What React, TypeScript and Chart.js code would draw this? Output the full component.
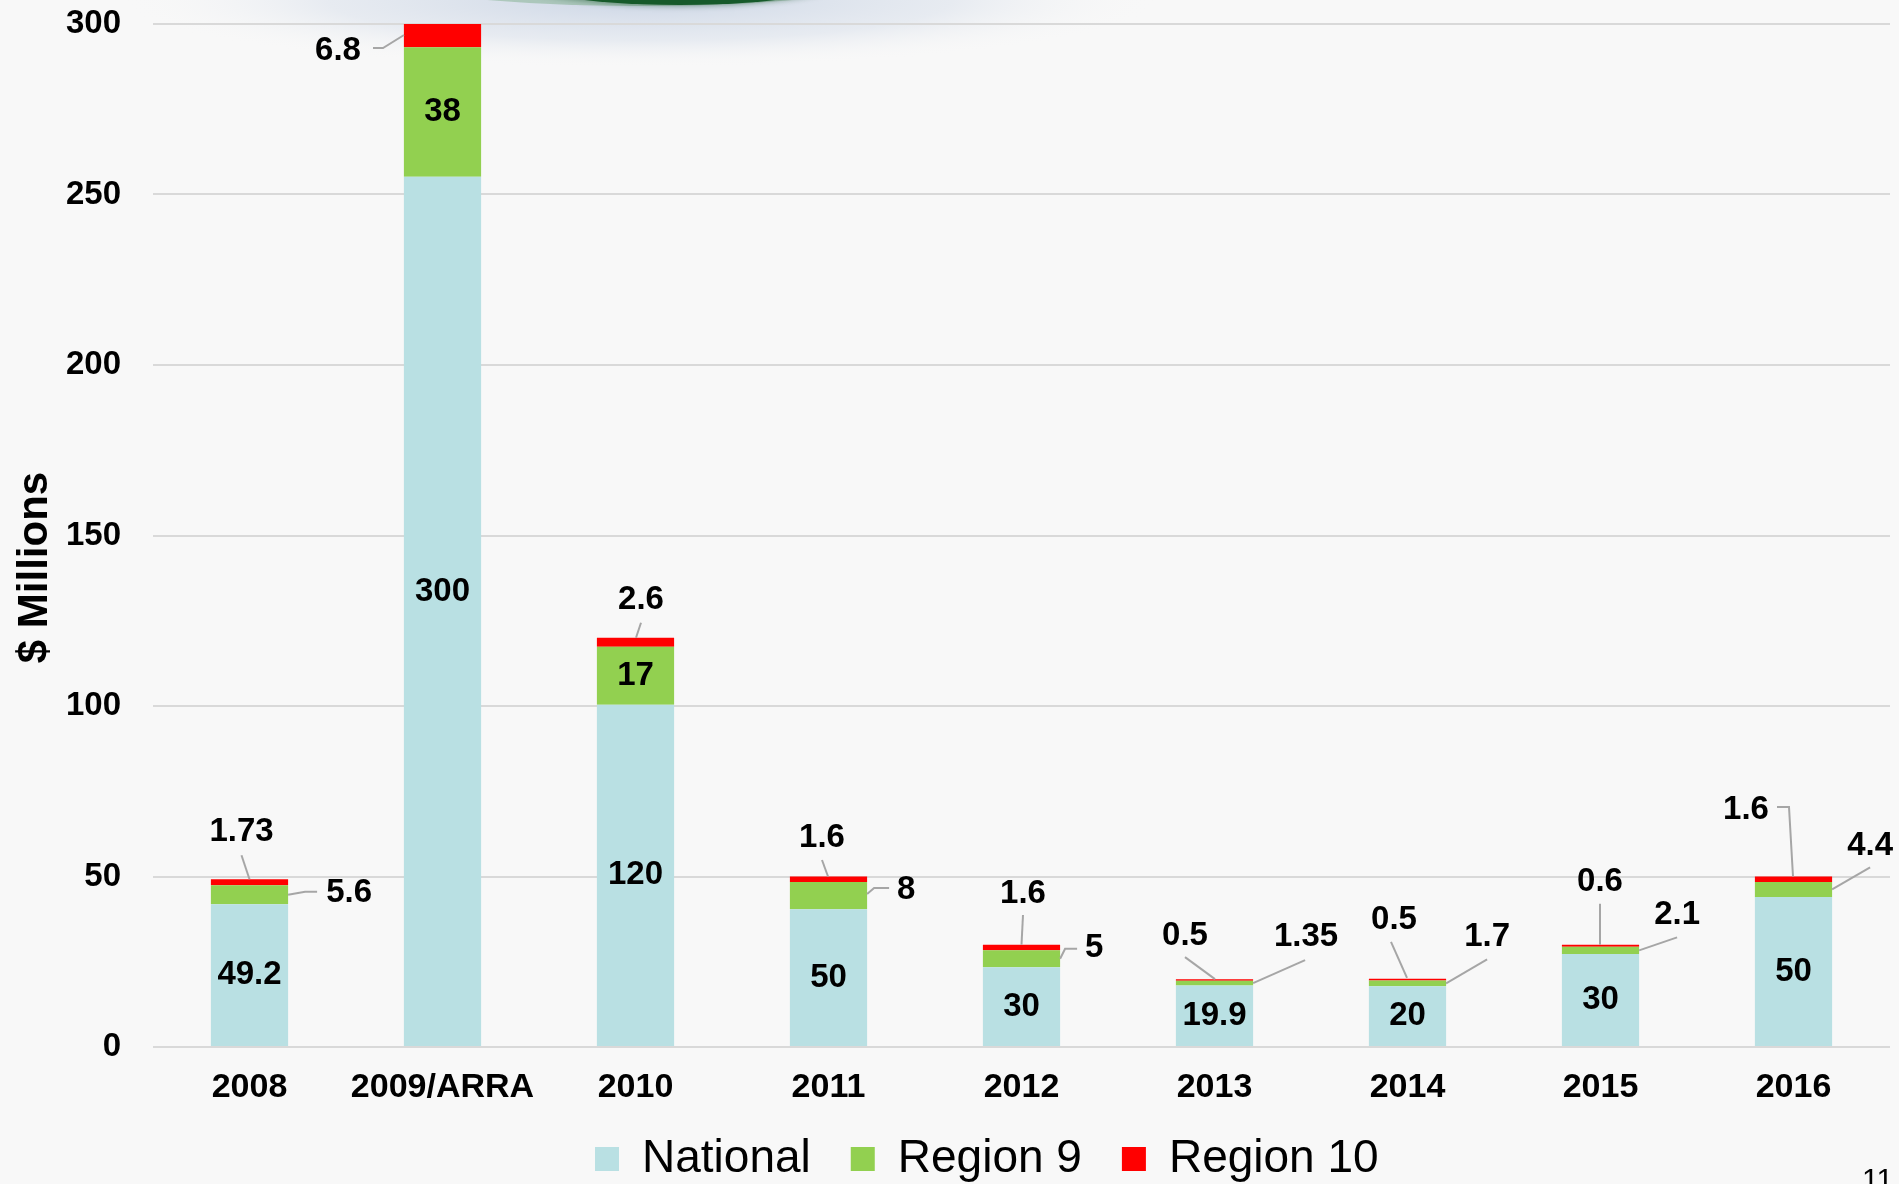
import React, { useEffect, useRef } from "react";
import { Chart, registerables } from "chart.js";

Chart.register(...registerables);

// ---------------- data ----------------
const categories = ["2008", "2009/ARRA", "2010", "2011", "2012", "2013", "2014", "2015", "2016"];
// visible height of each National segment (the label on it shows the column total)
const nationalValues = [41.87, 255.2, 100.4, 40.4, 23.4, 18.05, 17.8, 27.3, 44.0];
const region9Values = [5.6, 38, 17, 8, 5, 1.35, 1.7, 2.1, 4.4];
const region10Values = [1.73, 6.8, 2.6, 1.6, 1.6, 0.5, 0.5, 0.6, 1.6];
const totalLabels = ["49.2", "300", "120", "50", "30", "19.9", "20", "30", "50"];
const yTickValues = [0, 50, 100, 150, 200, 250, 300];
const seriesNames = ["National", "Region 9", "Region 10"];

// ---------------- styling / layout ----------------
const FONT = "'Liberation Sans', Arial, Helvetica, sans-serif";
const COLORS = ["#b9e0e3", "#92d050", "#ff0000"];
const W = 1899;
const H = 1184;
const PLOT_BOTTOM = 1047;
const LEGEND_FONT = 46;
const LEGEND_PAD = 40;
const LEGEND_CENTER_Y = 1159;
const LEGEND_START_X = 595;
const Y_TITLE_SHIFT = 64;

type Callout = { dx: number; dy: number; path: [number, number][] } | null;

// Region 10 labels: anchored at top-centre of the column
const region10Callouts: Callout[] = [
  { dx: -8, dy: -47, path: [[0, 0], [-8, -24]] },
  { dx: -104.5, dy: 27, path: [[-38.5, 11], [-59.5, 24], [-69.5, 24]] },
  { dx: 5.5, dy: -38, path: [[0.5, 0], [5.5, -15]] },
  { dx: -6.5, dy: -38.5, path: [[-0.5, 0], [-6.5, -16.5]] },
  { dx: 1.5, dy: -50.7, path: [[0, 0], [1.5, -29.7]] },
  { dx: -29.5, dy: -43, path: [[0.5, 0], [-29.5, -22]] },
  { dx: -13.5, dy: -59, path: [[-0.5, -1], [-16.5, -37]] },
  { dx: -0.5, dy: -63, path: [[-0.5, 0], [-0.5, -41]] },
  { dx: -47.5, dy: -66.5, path: [[-0.5, 0], [-4.5, -69.5], [-16.5, -69.5]] },
];

// Region 9 labels: anchored at right edge, middle of the green segment (null = inside)
const region9Callouts: Callout[] = [
  { dx: 61, dy: -1.7, path: [[0, 0], [17, -3], [29, -3]] },
  null,
  null,
  { dx: 39, dy: -5.6, path: [[0, -1.6], [7, -7.6], [22, -7.6]] },
  { dx: 34, dy: -10.7, path: [[0, 0], [5, -10], [17, -10]] },
  { dx: 53, dy: -46, path: [[0, 0], [52, -23]] },
  { dx: 41, dy: -46, path: [[0, 0], [41, -24]] },
  { dx: 38, dy: -35, path: [[0, 0], [38, -13]] },
  { dx: 38, dy: -43.5, path: [[0, 0], [38, -22]] },
];

const nationalLabelShift = [0, -19, 0, 0, 0, 0, 0, 0, 0];

function drawCallout(ctx: CanvasRenderingContext2D, ax: number, ay: number, c: Callout, text: string) {
  if (!c) return;
  ctx.beginPath();
  c.path.forEach(([px, py], k) => {
    if (k === 0) ctx.moveTo(ax + px, ay + py);
    else ctx.lineTo(ax + px, ay + py);
  });
  ctx.stroke();
  ctx.fillText(text, ax + c.dx, ay + c.dy);
}

const slidePlugin = {
  id: "slideLayout",
  afterLayout(chart: any) {
    // place the library legend where the slide has it
    const lg = chart.legend;
    if (lg) {
      const dy = LEGEND_CENTER_Y - (lg.top + LEGEND_PAD + LEGEND_FONT / 2);
      lg.top += dy;
      lg.bottom += dy;
      const lw = lg.lineWidths && lg.lineWidths.length ? lg.lineWidths[0] : 0;
      const start = (lg.left + LEGEND_PAD + lg.right - lw) / 2;
      const dx = LEGEND_START_X - start;
      lg.left += dx;
      lg.right += dx;
    }
    // let the category labels use the room under the plot (they are clipped to the axis box)
    const xs = chart.scales.x;
    if (xs) {
      xs.bottom = Math.max(xs.bottom, xs.top + 80);
      xs.height = xs.bottom - xs.top;
    }
    // the slide's axis title sits a little below the plot's middle
    const ys = chart.scales.y;
    if (ys) {
      ys.bottom += Y_TITLE_SHIFT;
      ys.height = ys.bottom - ys.top;
    }
  },
  beforeDraw(chart: any) {
    const ctx: CanvasRenderingContext2D = chart.ctx;
    ctx.save();
    ctx.fillStyle = "#f8f8f8";
    ctx.fillRect(0, 0, chart.width, chart.height);

    // soft haze below the header ornament
    ctx.save();
    ctx.translate(640, 0);
    ctx.scale(1, 0.13);
    const haze = ctx.createRadialGradient(0, 0, 0, 0, 0, 520);
    haze.addColorStop(0, "rgba(196,208,226,0.85)");
    haze.addColorStop(0.6, "rgba(214,222,234,0.5)");
    haze.addColorStop(1, "rgba(248,248,248,0)");
    ctx.fillStyle = haze;
    ctx.fillRect(-520, -520, 1040, 1040);
    ctx.restore();

    // light green outer arc
    ctx.beginPath();
    ctx.ellipse(640, -34, 290, 40, 0, 0, Math.PI * 2);
    ctx.fillStyle = "rgba(120,170,130,0.45)";
    ctx.fill();
    // dark green arc
    ctx.save();
    ctx.shadowColor = "rgba(10,70,30,0.6)";
    ctx.shadowBlur = 6;
    ctx.beginPath();
    ctx.ellipse(680, -32, 190, 37, 0, 0, Math.PI * 2);
    ctx.fillStyle = "#165a2a";
    ctx.fill();
    ctx.restore();

    // page number
    ctx.fillStyle = "#000";
    ctx.font = `30px ${FONT}`;
    ctx.textAlign = "left";
    ctx.textBaseline = "top";
    ctx.fillText("11", 1862, 1166);
    ctx.restore();
  },
};

const labelPlugin = {
  id: "calloutLabels",
  afterDatasetsDraw(chart: any) {
    const ctx: CanvasRenderingContext2D = chart.ctx;
    const nat = chart.getDatasetMeta(0).data;
    const r9 = chart.getDatasetMeta(1).data;
    const r10 = chart.getDatasetMeta(2).data;
    ctx.save();
    ctx.font = `bold 33px ${FONT}`;
    ctx.fillStyle = "#000";
    ctx.textAlign = "center";
    ctx.textBaseline = "middle";
    ctx.strokeStyle = "#a6a6a6";
    ctx.lineWidth = 2;
    categories.forEach((_, i) => {
      const n: any = nat[i];
      ctx.fillText(totalLabels[i], n.x, (n.y + n.base) / 2 + nationalLabelShift[i]);

      const g: any = r9[i];
      const gText = String(region9Values[i]);
      const gc = region9Callouts[i];
      if (!gc) ctx.fillText(gText, g.x, (g.y + g.base) / 2);
      else drawCallout(ctx, g.x + g.width / 2, (g.y + g.base) / 2, gc, gText);

      const r: any = r10[i];
      drawCallout(ctx, r.x, r.y, region10Callouts[i], String(region10Values[i]));
    });
    ctx.restore();
  },
};

export default function App() {
  const ref = useRef<HTMLCanvasElement | null>(null);

  useEffect(() => {
    if (!ref.current) return;
    Chart.defaults.font.family = FONT;
    const chart = new Chart(ref.current, {
      type: "bar",
      data: {
        labels: categories,
        datasets: [
          { label: seriesNames[0], data: nationalValues, backgroundColor: COLORS[0], stack: "s" },
          { label: seriesNames[1], data: region9Values, backgroundColor: COLORS[1], stack: "s" },
          { label: seriesNames[2], data: region10Values, backgroundColor: COLORS[2], stack: "s" },
        ],
      },
      options: {
        responsive: false,
        animation: false,
        layout: { padding: { top: 24, right: 9, bottom: 0, left: 0 } },
        datasets: { bar: { categoryPercentage: 0.8, barPercentage: 0.5, borderWidth: 0 } },
        scales: {
          x: {
            stacked: true,
            grid: { display: false, drawTicks: false },
            border: { display: false },
            ticks: { color: "#000", font: { family: FONT, size: 34, weight: "bold" }, padding: 20 },
            afterFit: (s: any) => {
              const lh = s.chart.legend ? s.chart.legend.height : 0;
              s.height = Math.max(H - lh - PLOT_BOTTOM, 1);
            },
          },
          y: {
            stacked: true,
            min: 0,
            max: 300,
            afterBuildTicks: (s: any) => {
              s.ticks = yTickValues.map((v) => ({ value: v }));
            },
            grid: { color: "#d9d9d9", lineWidth: 2, drawTicks: false },
            border: { display: false },
            ticks: { color: "#000", font: { family: FONT, size: 33, weight: "bold" }, padding: 32 },
            title: {
              display: true,
              text: "$ Millions",
              color: "#000",
              font: { family: FONT, size: 42, weight: "bold" },
              padding: { top: 10, bottom: 0 },
            },
            afterFit: (s: any) => {
              s.width = 153;
              s.paddingTop = 0;
              s.paddingBottom = 0;
            },
          },
        },
        plugins: {
          legend: {
            position: "bottom",
            labels: {
              boxWidth: 24,
              boxHeight: 24,
              padding: LEGEND_PAD,
              color: "#000",
              font: { family: FONT, size: LEGEND_FONT },
            },
          },
          tooltip: { enabled: false },
        },
      } as any,
      plugins: [slidePlugin, labelPlugin],
    });
    return () => chart.destroy();
  }, []);

  return (
    <div style={{ position: "absolute", left: 0, top: 0, width: W, height: H, background: "#f8f8f8" }}>
      <canvas ref={ref} width={W} height={H} style={{ display: "block", width: W, height: H }} />
    </div>
  );
}
